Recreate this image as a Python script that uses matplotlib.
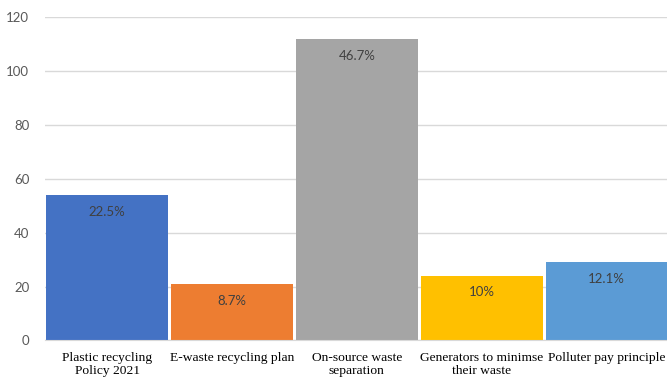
import matplotlib
matplotlib.use("Agg")
import matplotlib.pyplot as plt

# chart values
categories = [
    "Plastic recycling\nPolicy 2021",
    "E-waste recycling plan",
    "On-source waste\nseparation",
    "Generators to minimse\ntheir waste",
    "Polluter pay principle",
]
values = [54, 21, 112, 24, 29]
pct_labels = ["22.5%", "8.7%", "46.7%", "10%", "12.1%"]
colors = ["#4472C4", "#ED7D31", "#A5A5A5", "#FFC000", "#5B9BD5"]
y_ticks = [0, 20, 40, 60, 80, 100, 120]

fig = plt.figure(figsize=(6.67, 3.77), dpi=100)
# axes slightly wider than the figure: the reference is cropped on the right
ax = fig.add_axes([44.6 / 667, (377 - 340.4) / 377, 624.5 / 667, 323 / 377])

x = list(range(len(categories)))
bars = ax.bar(x, values, width=0.975, color=colors, zorder=2)

for rect, lab in zip(bars, pct_labels):
    ax.annotate(lab, (rect.get_x() + rect.get_width() / 2, rect.get_height()),
                xytext=(0, -12), textcoords="offset points",
                ha="center", va="center", fontsize=9.5, color="#404040",
                family="Lato")

ax.set_xlim(-0.5, 4.5)
ax.set_ylim(0, 120)
ax.set_yticks(y_ticks)
ax.set_yticklabels([str(t) for t in y_ticks], color="#595959",
                   fontsize=9.5, family="Lato")
ax.set_xticks(x)
ax.set_xticklabels(categories, fontsize=9.7, family="Liberation Serif",
                   color="black", linespacing=1.12)

ax.tick_params(axis="y", length=0, pad=11)
ax.tick_params(axis="x", length=0, pad=8)
ax.grid(axis="y", color="#D9D9D9", linewidth=1, zorder=0)
for side in ["top", "right", "left"]:
    ax.spines[side].set_visible(False)
ax.spines["bottom"].set_color("#D9D9D9")

fig.savefig("out.png", dpi=100)
